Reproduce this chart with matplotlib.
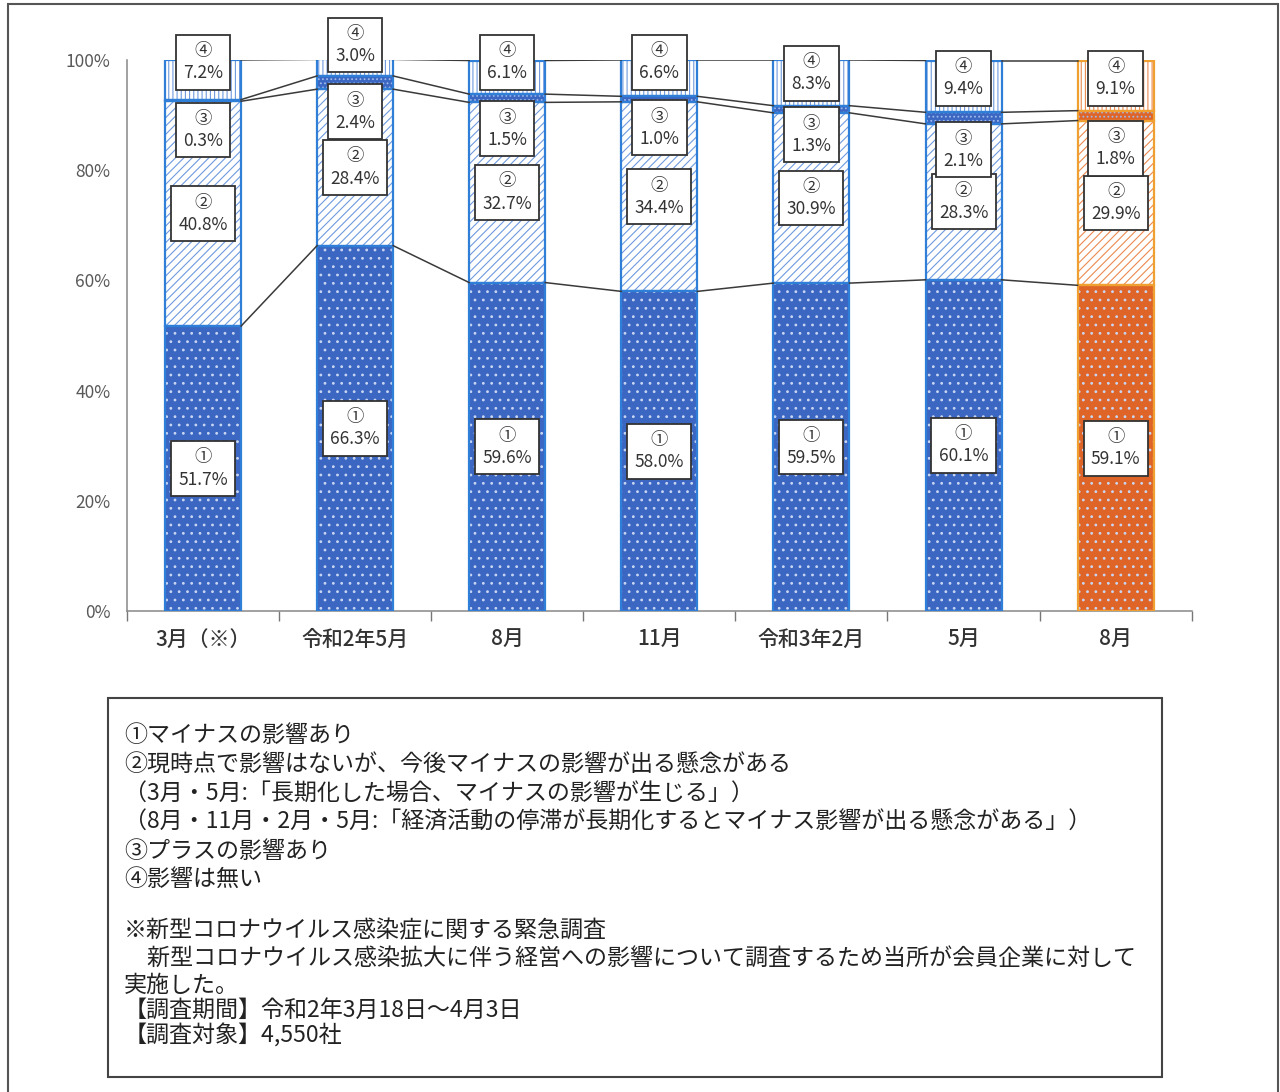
import numpy as np
import matplotlib
matplotlib.use("Agg")
import matplotlib.pyplot as plt
from matplotlib.patches import Rectangle

plt.rcParams['font.family'] = ['Noto Sans CJK JP', 'DejaVu Sans']
plt.rcParams['hatch.linewidth'] = 0.8

# データ
categories = ["3月（※）", "令和2年5月", "8月", "11月", "令和3年2月", "5月", "8月"]
minus = [51.7, 66.3, 59.6, 58.0, 59.5, 60.1, 59.1]      # ①
concern = [40.8, 28.4, 32.7, 34.4, 30.9, 28.3, 29.9]    # ②
plus = [0.3, 2.4, 1.5, 1.0, 1.3, 2.1, 1.8]              # ③
none = [7.2, 3.0, 6.1, 6.6, 8.3, 9.4, 9.1]              # ④

# 小さい区分のラベル位置 (%)
label_y3 = [87.3, 90.6, 87.5, 87.7, 86.4, 83.7, 84.0]
label_y4 = [99.6, 102.7, 99.6, 99.6, 97.6, 96.7, 96.7]

notes = [
    "①マイナスの影響あり",
    "②現時点で影響はないが、今後マイナスの影響が出る懸念がある",
    "（3月・5月:「長期化した場合、マイナスの影響が生じる」）",
    "（8月・11月・2月・5月:「経済活動の停滞が長期化するとマイナス影響が出る懸念がある」）",
    "③プラスの影響あり",
    "④影響は無い",
    "",
    "※新型コロナウイルス感染症に関する緊急調査",
    "　新型コロナウイルス感染拡大に伴う経営への影響について調査するため当所が会員企業に対して",
    "実施した。",
    "【調査期間】令和2年3月18日～4月3日",
    "【調査対象】4,550社",
]

# ─────────────────────────────
# 色
fill_c = ["#3b67c2"] * 6 + ["#df6428"]
line_c = ["#6f9ade"] * 6 + ["#ec8a50"]
edge_c = ["#2f7fd8"] * 6 + ["#f0a030"]

x = np.arange(len(categories))
w = 0.5
segs = [minus, concern, plus, none]
bottoms = np.zeros(len(x))

fig = plt.figure(figsize=(12.8, 10.92), dpi=100)
ax = fig.add_axes([0.0992, 0.4405, 0.8318, 0.5046])

cums = []
for k, vals in enumerate(segs):
    vals = np.array(vals)
    for i in x:
        b = bottoms[i]
        if k == 0:
            ax.bar(i, vals[i], w, bottom=b, color=fill_c[i], edgecolor="#c9d6f2",
                   hatch="..", linewidth=0, zorder=2)
        elif k == 1:
            ax.bar(i, vals[i], w, bottom=b, color="white", edgecolor=line_c[i],
                   hatch="////", linewidth=0, zorder=2)
        elif k == 2:
            ax.bar(i, vals[i], w, bottom=b, color=fill_c[i], edgecolor="#9fb8ea",
                   hatch="....", linewidth=0, zorder=2)
        else:
            ax.bar(i, vals[i], w, bottom=b, color="white", edgecolor=line_c[i],
                   hatch="||||", linewidth=0, zorder=2)
        ax.bar(i, vals[i], w, bottom=b, fill=False, edgecolor=edge_c[i],
               linewidth=1.6, zorder=3)
    bottoms = bottoms + vals
    cums.append(bottoms.copy())

# 区分線
for c in cums:
    for i in range(len(x) - 1):
        ax.plot([i + w / 2, i + 1 - w / 2], [c[i], c[i + 1]], color="#3a3a3a",
                linewidth=1.1, zorder=4)

# ラベル
def label(xi, yi, num, val):
    ax.text(xi, yi, f"{num}\n{val:.1f}%", ha="center", va="center", fontsize=12.5,
            color="#333333", linespacing=1.3, zorder=6,
            bbox=dict(boxstyle="square,pad=0.42", fc="white", ec="#333333", lw=1.3))

for i in x:
    label(i, minus[i] / 2, "①", minus[i])
    label(i, minus[i] + concern[i] / 2, "②", concern[i])
    label(i, label_y3[i], "③", plus[i])
    label(i, label_y4[i], "④", none[i])

ax.set_xlim(-0.5, len(x) - 0.5)
ax.set_ylim(0, 100)
ax.set_yticks(np.arange(0, 101, 20))
ax.set_yticklabels([f"{v}%" for v in range(0, 101, 20)])
ax.set_xticks(x)
ax.set_xticklabels(categories, fontsize=15, color="#333333", fontweight="medium")
ax.set_xticks(np.arange(-0.5, len(x), 1), minor=True)
ax.tick_params(axis="x", which="major", length=0, pad=13)
ax.tick_params(axis="x", which="minor", length=7, color="#777777", width=1)
ax.tick_params(axis="y", length=0, pad=12, labelsize=12.5, labelcolor="#595959")
for s in ["top", "right"]:
    ax.spines[s].set_visible(False)
for s in ["left", "bottom"]:
    ax.spines[s].set_color("#888888")
    ax.spines[s].set_linewidth(1.1)

# 外枠と注記枠
fig.patches.append(Rectangle((8 / 1280, -0.01), 1270 / 1280, 1 - 4 / 1092 + 0.01,
                             transform=fig.transFigure, fill=False, ec="#555555", lw=1.5))
fig.patches.append(Rectangle((108 / 1280, 1 - 1077 / 1092), 1054 / 1280, 379 / 1092,
                             transform=fig.transFigure, fill=False, ec="#444444", lw=1.5))

line_y = [736, 765, 794, 822, 851, 879, 905, 931, 959, 985, 1010, 1036]
for t, yy in zip(notes, line_y):
    if t:
        fig.text(124 / 1280, 1 - yy / 1092, t, ha="left", va="center", fontsize=16.6,
                 color="#222222")

fig.savefig("out.png", dpi=100)
